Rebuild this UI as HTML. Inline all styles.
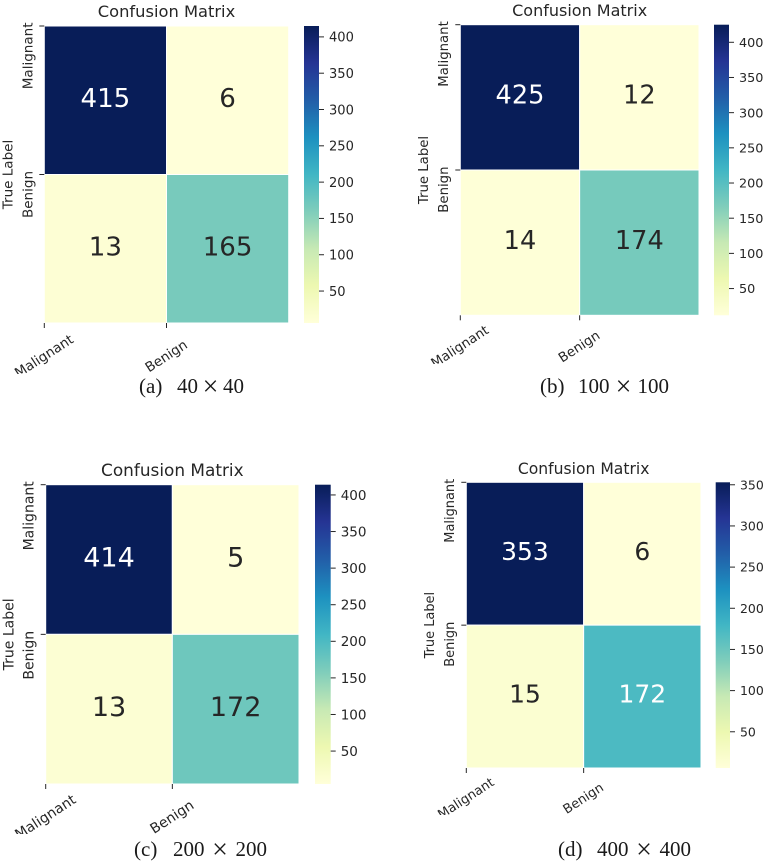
<!DOCTYPE html>
<html lang="en">
<head>
<meta charset="utf-8">
<title>Confusion matrices at four image resolutions</title>
<style>
html,body{margin:0;padding:0;background:#fff;width:767px;height:861px;overflow:hidden}
svg{display:block;filter:blur(0.35px)}
text{font-family:"DejaVu Sans","Liberation Sans",sans-serif;fill:#262626}
text.cap{font-family:"Liberation Serif",serif;fill:#1a1a1a}
</style>
</head>
<body>
<svg id="chart" xmlns="http://www.w3.org/2000/svg" width="767" height="861" viewBox="0 0 767 861"></svg>
<script>
// ---- chart data ----
const classLabels = ['Malignant', 'Benign'];
const panelIds = ['a', 'b', 'c', 'd'];
const captionLetters = ['(a)', '(b)', '(c)', '(d)'];
const captionSizes = ['40', '100', '200', '400'];
const matrixA = [[415, 6], [13, 165]];
const matrixB = [[425, 12], [14, 174]];
const matrixC = [[414, 5], [13, 172]];
const matrixD = [[353, 6], [15, 172]];
const matrices = [matrixA, matrixB, matrixC, matrixD];
const ticksABC = [50, 100, 150, 200, 250, 300, 350, 400];
const ticksD = [50, 100, 150, 200, 250, 300, 350];
const colorbarTicks = [ticksABC, ticksABC, ticksABC, ticksD];

// ---- layout (separate from data) ----
const layouts = [
  {x0:44.3,x1:288.7,y0:26,y1:323,cb0:304,cb1:319,fs:16.3,titleY:17,capY:393,letterX:139,sizeX:177,sizeW:67,clipY:374,lblOff:33.5},
  {x0:460.3,x1:699,y0:24.7,y1:315.3,cb0:714,cb1:729,fs:16,titleY:16,capY:393,letterX:540,sizeX:578,sizeW:91,clipY:364,lblOff:32},
  {x0:45.7,x1:299,y0:484.7,y1:784,cb0:315,cb1:330.7,fs:16.9,titleY:476,capY:856,letterX:134,sizeX:173,sizeW:94,clipY:834,lblOff:33.5},
  {x0:466.3,x1:701,y0:482.3,y1:768,cb0:715.7,cb1:730,fs:15.6,titleY:474,capY:856,letterX:558,sizeX:597,sizeW:94,clipY:815,lblOff:31}
];
const ylgnbu = ['#ffffd9','#edf8b1','#c7e9b4','#7fcdbb','#41b6c4','#1d91c0','#225ea8','#253494','#081d58'];

const NS = 'http://www.w3.org/2000/svg';
const svg = document.getElementById('chart');

function mk(tag, attrs, parent, content) {
  const n = document.createElementNS(NS, tag);
  for (const k in attrs) n.setAttribute(k, attrs[k]);
  if (content !== undefined) n.textContent = content;
  parent.appendChild(n);
  return n;
}
function rgbOf(hex) {
  return [1, 3, 5].map(i => parseInt(hex.substr(i, 2), 16));
}
function cmap(t) {
  const p = Math.max(0, Math.min(1, t)) * (ylgnbu.length - 1);
  const i = Math.min(Math.floor(p), ylgnbu.length - 2);
  const a = rgbOf(ylgnbu[i]), b = rgbOf(ylgnbu[i + 1]);
  return a.map((v, k) => Math.round(v + (b[k] - v) * (p - i)));
}
function luminance(c) {
  const f = c.map(v => { v /= 255; return v <= 0.03928 ? v / 12.92 : Math.pow((v + 0.055) / 1.055, 2.4); });
  return 0.2126 * f[0] + 0.7152 * f[1] + 0.0722 * f[2];
}

const defs = mk('defs', {}, svg);
const grad = mk('linearGradient', {id:'ylgnbu-grad', x1:0, y1:1, x2:0, y2:0}, defs);
ylgnbu.forEach((c, i) => mk('stop', {offset:i / (ylgnbu.length - 1), 'stop-color':c}, grad));

matrices.forEach((matrix, p) => {
  const L = layouts[p];
  const id = panelIds[p];
  const flat = matrix[0].concat(matrix[1]);
  const vmin = Math.min.apply(null, flat);
  const vmax = Math.max.apply(null, flat);
  const xMid = L.x0 + (L.x1 - L.x0) / 2;
  const yMid = L.y0 + (L.y1 - L.y0) / 2;
  const xScale = i => L.x0 + (L.x1 - L.x0) * i / classLabels.length;
  const yScale = i => L.y0 + (L.y1 - L.y0) * i / classLabels.length;
  const cbScale = v => L.y1 - (v - vmin) / (vmax - vmin) * (L.y1 - L.y0);
  const tickFs = L.fs * 0.8;
  const classFs = L.fs * 0.83;
  const annFs = L.fs * 1.6;

  const g = mk('g', {}, svg);
  
  

  const title = mk('text', {x:xMid, y:L.titleY, 'text-anchor':'middle', 'font-size':L.fs}, g, 'Confusion Matrix');
  
  

  matrix.forEach((row, r) => row.forEach((v, c) => {
    const col = cmap((v - vmin) / (vmax - vmin));
    const cell = mk('rect', {x:xScale(c), y:yScale(r), width:xScale(c + 1) - xScale(c), height:yScale(r + 1) - yScale(r),
      fill:'rgb(' + col.join(',') + ')', stroke:'#fff', 'stroke-width':1}, g);
    
    
  }));
  matrix.forEach((row, r) => row.forEach((v, c) => {
    const col = cmap((v - vmin) / (vmax - vmin));
    const txt = mk('text', {x:(xScale(c) + xScale(c + 1)) / 2, y:(yScale(r) + yScale(r + 1)) / 2 + annFs * 0.365 - 3,
      'text-anchor':'middle', 'font-size':annFs}, g, String(v));
    txt.style.fill = luminance(col) < 0.408 ? '#ffffff' : '#262626';
    
    
  }));

  const clip = mk('clipPath', {id:'clip-' + id}, defs);
  mk('rect', {x:L.x0 - 44, y:L.y1, width:L.x1 - L.x0 + 60, height:L.clipY - L.y1}, clip);

  classLabels.forEach((name, i) => {
    const tx = xScale(i);
    const xt = mk('line', {x1:tx, x2:tx, y1:L.y1, y2:L.y1 + 5, stroke:'#262626', 'stroke-width':1}, g);
    
    
    const clipG = mk('g', {'clip-path':'url(#clip-' + id + ')'}, g);
    const ly = L.y1 + L.lblOff;
    const xl = mk('text', {x:tx, y:ly, 'text-anchor':'middle', 'dominant-baseline':'central', 'font-size':classFs,
      transform:'rotate(-33 ' + tx + ' ' + ly + ')'}, clipG, name);
    
    

    const ty = yScale(i);
    const yt = mk('line', {x1:L.x0 - 5, x2:L.x0, y1:ty, y2:ty, stroke:'#262626', 'stroke-width':1}, g);
    
    
    const lx = L.x0 - 16, lyy = ty - 3.5;
    const yl = mk('text', {x:lx, y:lyy, 'text-anchor':'end', 'dominant-baseline':'central', 'font-size':classFs,
      transform:'rotate(-90 ' + lx + ' ' + lyy + ')'}, g, name);
    
    
  });

  const ax = L.x0 - 36;
  const yTitle = mk('text', {x:ax, y:yMid, 'text-anchor':'middle', 'dominant-baseline':'central', 'font-size':classFs,
    transform:'rotate(-90 ' + ax + ' ' + yMid + ')'}, g, 'True Label');
  
  

  const bar = mk('rect', {x:L.cb0, y:L.y0, width:L.cb1 - L.cb0, height:L.y1 - L.y0, fill:'url(#ylgnbu-grad)'}, g);
  
  
  colorbarTicks[p].forEach(v => {
    const y = cbScale(v);
    const t = mk('line', {x1:L.cb1, x2:L.cb1 + 5, y1:y, y2:y, stroke:'#262626', 'stroke-width':1}, g);
    
    
    const lab = mk('text', {x:L.cb1 + 10, y:y + tickFs * 0.365, 'font-size':tickFs}, g, String(v));
    
    
  });

  const c1 = mk('text', {class:'cap', x:L.letterX, y:L.capY, 'font-size':21}, g, captionLetters[p]);
  
  
  const c2 = mk('text', {class:'cap', x:L.sizeX, y:L.capY, 'font-size':21}, g, captionSizes[p]);
  
  
  const c3 = mk('text', {class:'cap', x:L.sizeX + L.sizeW / 2, y:L.capY + 2.5, 'font-size':28, 'text-anchor':'middle'}, g, '×');
  
  
  const c4 = mk('text', {class:'cap', x:L.sizeX + L.sizeW, y:L.capY, 'font-size':21, 'text-anchor':'end'}, g, captionSizes[p]);
  
  
});
</script>
</body>
</html>
